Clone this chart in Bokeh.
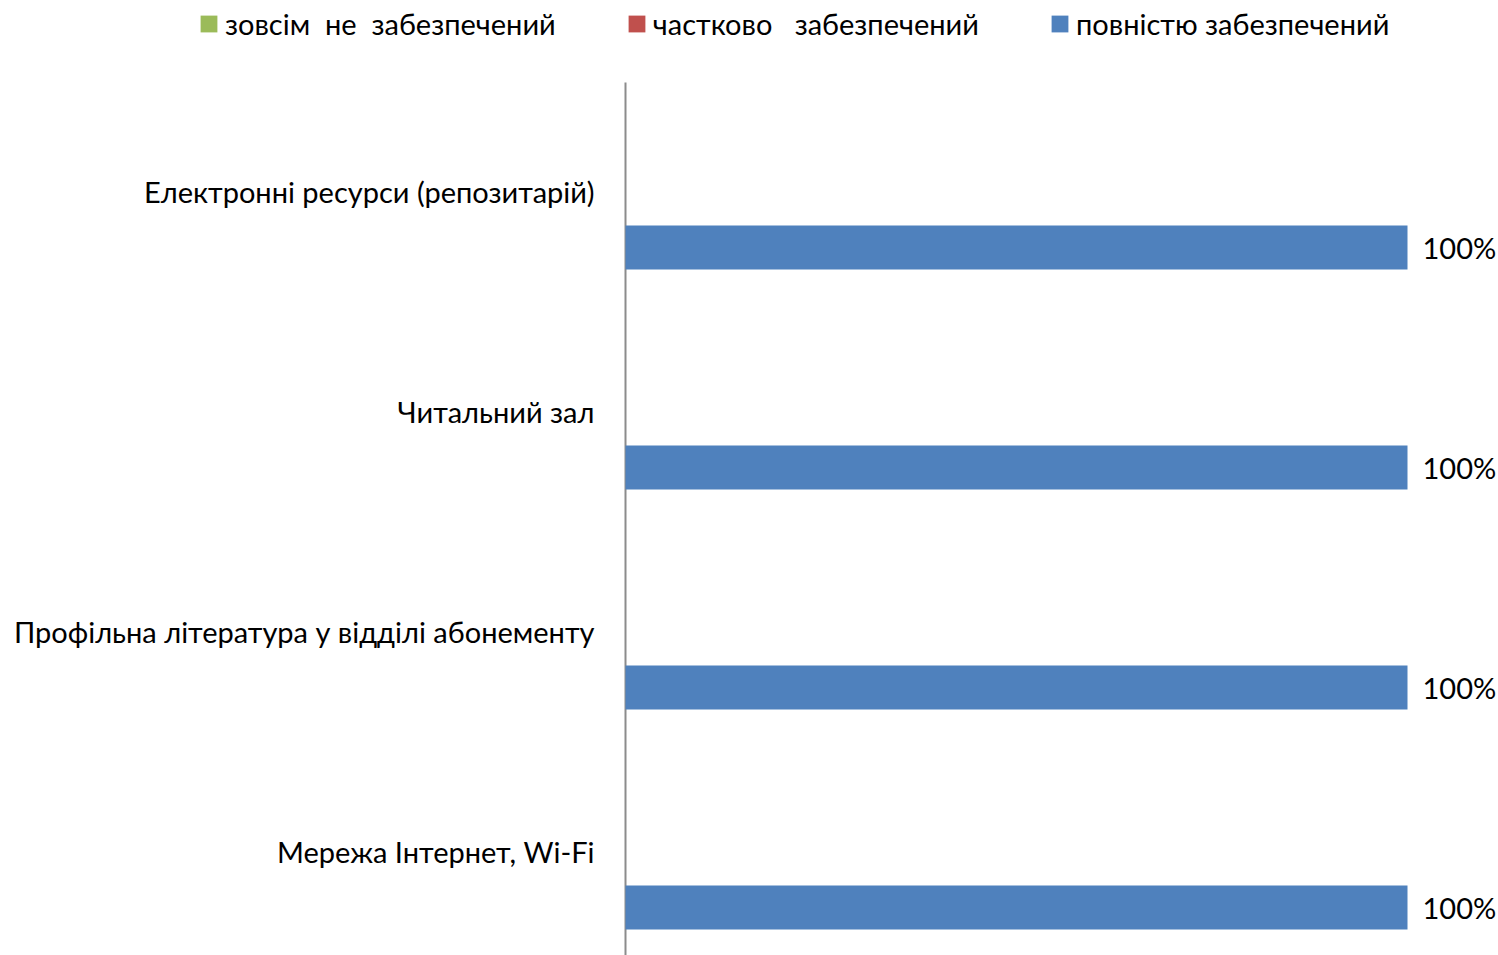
from bokeh.plotting import figure
from bokeh.models import Range1d, Legend, LegendItem, ColumnDataSource
from bokeh.transform import dodge
from bokeh.core.properties import value
from bokeh.embed import file_html
from bokeh.resources import INLINE

categories = ["Електронні ресурси (репозитарій)", "Читальний зал",
              "Профільна література у відділі абонементу", "Мережа Інтернет, Wi-Fi"]
series_names = ["зовсім  не  забезпечений", "частково   забезпечений", "повністю забезпечений"]
zovsim_ne = [0, 0, 0, 0]
chastkovo = [0, 0, 0, 0]
povnistyu = [100, 100, 100, 100]
value_labels = ["100%", "100%", "100%", "100%"]

colors = ["#9BBB59", "#C0504D", "#4F81BD"]
FONT = "Lato"
FS = "29px"

idx = list(range(len(categories)))
src = ColumnDataSource(dict(y=idx, a=zovsim_ne, b=chastkovo, c=povnistyu,
                            lab=value_labels, cat=categories, zero=[0] * len(idx)))

W, H = 1498, 955
PX_X = 7.82    # pixels per percent
PX_Y = 220.0   # pixels per category
p = figure(width=W, height=H, output_backend="svg", toolbar_location=None,
           x_range=Range1d(-625 / PX_X, (W - 625) / PX_X),
           y_range=Range1d((H - 191) / PX_Y, -191 / PX_Y),
           min_border=0)
p.background_fill_color = "white"
p.border_fill_color = "white"
p.outline_line_color = None
p.grid.visible = False
p.axis.visible = False

# category axis line
p.segment(x0=0, x1=0, y0=(82 - 191) / PX_Y, y1=(H - 191) / PX_Y,
          line_color="#8c8c8c", line_width=2)

offsets = [-0.1455, 0.0545, 0.2545]
cols = ["a", "b", "c"]
rends = []
for col, off, c in zip(cols, offsets, colors):
    r = p.hbar(y=dodge("y", off, range=p.y_range), left=0, right=col, height=0.2,
               fill_color=c, line_color=None, source=src)
    rends.append(r)

# value labels
p.text(x="c", y=dodge("y", 0.2545, range=p.y_range), text="lab", source=src,
       x_offset=15, text_align="left", text_baseline="middle",
       text_font=value(FONT), text_font_size=FS, text_color="black")

# category labels
p.text(x="zero", y="y", text="cat", source=src,
       x_offset=-31, text_align="right", text_baseline="middle",
       text_font=value(FONT), text_font_size=FS, text_color="black")

legend = Legend(items=[LegendItem(label=n, renderers=[r]) for n, r in zip(series_names, rends)],
                orientation="horizontal", location=(198, 914),
                glyph_width=21, glyph_height=21, label_standoff=6, spacing=70,
                padding=0, margin=0, border_line_color=None, background_fill_alpha=0,
                label_text_font=FONT, label_text_font_size=FS, label_text_color="black")
p.add_layout(legend, "center")

open("out.html", "w").write(file_html(p, INLINE))
